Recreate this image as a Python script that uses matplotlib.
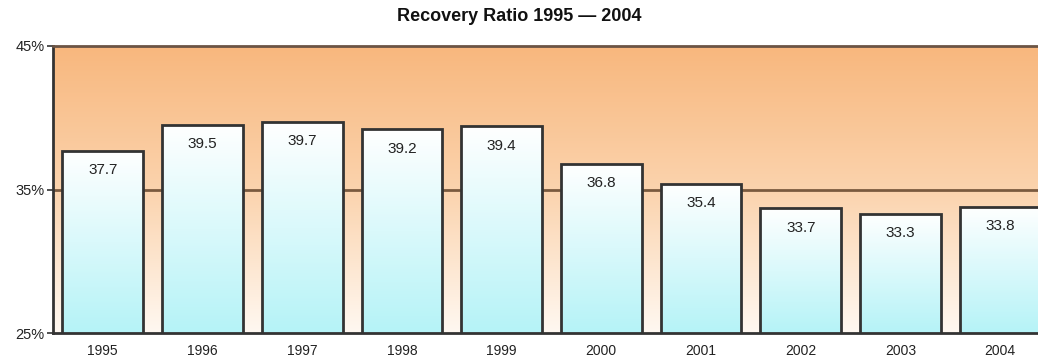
import numpy as np
import matplotlib.pyplot as plt
from matplotlib.colors import LinearSegmentedColormap

years = ["1995", "1996", "1997", "1998", "1999", "2000", "2001", "2002", "2003", "2004"]
ratio = [37.7, 39.5, 39.7, 39.2, 39.4, 36.8, 35.4, 33.7, 33.3, 33.8]
y_ticks = [25, 35, 45]
y_tick_labels = ["25%", "35%", "45%"]

plt.rcParams['font.family'] = ['Liberation Sans', 'DejaVu Sans']

fig = plt.figure(figsize=(10.38, 3.62), dpi=100)
ax = fig.add_axes([0.051, 0.080, 0.949, 0.793])

ax.set_xlim(-0.5, 9.38)
ax.set_ylim(25, 45)

# background gradient: orange at top fading to near white
bg_cmap = LinearSegmentedColormap.from_list("bg", ["#fff8f1", "#fbd3ad", "#f8b77d"])
grad = np.linspace(0, 1, 256).reshape(-1, 1)
ax.imshow(grad, cmap=bg_cmap, aspect="auto", origin="lower",
          extent=[-0.5, 9.38, 25, 45], zorder=0)

ax.axhline(35, color="#7a5a3f", lw=2, zorder=1)

bar_cmap = LinearSegmentedColormap.from_list("bar", ["#b5f3f7", "#ffffff"])
x = np.arange(len(years))
bars = ax.bar(x, ratio, width=0.81, bottom=0, facecolor="none",
              edgecolor="#333333", linewidth=2, zorder=3)
for b, v in zip(bars, ratio):
    im = ax.imshow(grad, cmap=bar_cmap, aspect="auto", origin="lower",
                   extent=[b.get_x(), b.get_x() + b.get_width(), 25, v], zorder=2)
    im.set_clip_path(b)
    ax.annotate(f"{v:.1f}", (b.get_x() + b.get_width() / 2, v),
                xytext=(0, -14), textcoords="offset points",
                ha="center", va="center", fontsize=11, color="#222222", zorder=4)

ax.set_xticks(x)
ax.set_xticklabels(years, fontsize=10)
ax.set_yticks(y_ticks)
ax.set_yticklabels(y_tick_labels, fontsize=10.5)
ax.tick_params(axis="x", length=0, pad=8, colors="#222222")
ax.tick_params(axis="y", length=4, width=1.2, color="#333333", pad=2, labelcolor="#222222")

for s in ["left", "bottom", "top"]:
    ax.spines[s].set_color("#333333")
    ax.spines[s].set_linewidth(2)
ax.spines["top"].set_color("#6b5444")
ax.spines["right"].set_visible(False)

fig.text(0.5, 0.955, "Recovery Ratio 1995 \u2014 2004", ha="center", va="center",
         fontsize=13, fontweight="bold", color="#111111")

fig.savefig("out.png", dpi=100)
